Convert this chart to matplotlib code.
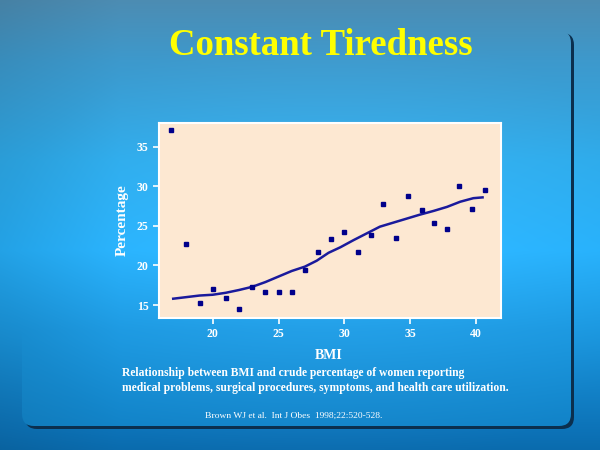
import numpy as np
import matplotlib
matplotlib.use('Agg')
import matplotlib.pyplot as plt
from matplotlib.patches import FancyBboxPatch

# data
bmi = [16.8, 18.0, 19.0, 20.0, 21.0, 22.0, 23.0, 24.0, 25.0, 26.0, 27.0, 28.0, 29.0,
       30.0, 31.0, 32.0, 32.9, 33.9, 34.8, 35.9, 36.8, 37.8, 38.7, 39.7, 40.7]
pct = [37.1, 22.7, 15.2, 17.0, 15.9, 14.5, 17.3, 16.6, 16.7, 16.7, 19.4, 21.7, 23.4,
       24.2, 21.7, 23.8, 27.8, 23.5, 28.8, 27.0, 25.4, 24.6, 30.0, 27.1, 29.5]

fit_x = [17.0, 18.0, 19.0, 20.0, 21.0, 22.0, 23.0, 24.0, 25.0, 26.0, 27.0, 27.9, 28.8,
         29.7, 30.7, 31.7, 32.7, 33.7, 34.7, 35.7, 36.8, 37.8, 38.8, 39.8, 40.5]
fit_y = [15.8, 16.0, 16.2, 16.3, 16.55, 16.9, 17.3, 17.9, 18.6, 19.3, 19.85, 20.6, 21.6,
         22.3, 23.2, 24.05, 24.9, 25.4, 25.9, 26.4, 26.9, 27.4, 28.05, 28.5, 28.6]

xticks = [20, 25, 30, 35, 40]
yticks = [15, 20, 25, 30, 35]

serif = ['Liberation Serif', 'DejaVu Serif']

fig = plt.figure(figsize=(6, 4.5), dpi=100)

# slide background: vertical gradient
bg = fig.add_axes([0, 0, 1, 1])
bg.set_xlim(0, 600)
bg.set_ylim(450, 0)
bg.axis('off')
yy, xx = np.mgrid[0:450, 0:600]
ky = [0, 60, 160, 250, 340, 430, 450]
kr = [0.30, 0.24, 0.18, 0.15, 0.10, 0.05, 0.04]
kg = [0.55, 0.60, 0.67, 0.69, 0.58, 0.45, 0.42]
kb = [0.70, 0.80, 0.92, 0.98, 0.86, 0.72, 0.68]
col = np.zeros((450, 600, 3))
for c, k in enumerate([kr, kg, kb]):
    col[..., c] = np.interp(yy, ky, k)
# a little lighter towards the middle, darker at far left
d = np.sqrt(((xx - 330) / 330.0) ** 2 + ((yy - 250) / 230.0) ** 2)
glow = np.clip(1 - d, 0, 1)
col = col + 0.05 * glow[..., None]
col[..., :] *= (0.92 + 0.08 * np.clip(xx / 120.0, 0, 1))[..., None]
col = np.clip(col, 0, 1)
bg.imshow(col, extent=(0, 600, 450, 0), zorder=0)

# panel with a thin dark shadow at right and bottom
shadow = FancyBboxPatch((25, 33), 549, 396, boxstyle='round,pad=0,rounding_size=12',
                        facecolor='#0b2f4e', edgecolor='none', zorder=1)
bg.add_patch(shadow)
clip = FancyBboxPatch((22, 31), 549, 395, boxstyle='round,pad=0,rounding_size=12',
                      facecolor='none', edgecolor='none', zorder=2)
bg.add_patch(clip)
pan = col.copy()
low = np.clip((yy - 330) / 100.0, 0, 1)
pan = np.clip(pan + (0.06 * low)[..., None] * np.array([0.3, 1.0, 1.0]), 0, 1)
im = bg.imshow(pan, extent=(0, 600, 450, 0), zorder=2)
im.set_clip_path(clip)

fig.text(0.535, 0.898, 'Constant Tiredness', color='#ffff00', fontsize=26.5,
         fontweight='bold', family=serif, ha='center', va='center')

ax = fig.add_axes([0.265, 0.2933, 0.57, 0.4334])
ax.set_facecolor('#fde8d2')
ax.plot(fit_x, fit_y, color='#1a1a9c', lw=1.8, zorder=2)
ax.plot(bmi, pct, 's', color='#00008b', ms=3, zorder=3)
ax.set_xlim(15.92, 41.9)
ax.set_ylim(13.36, 38.0)
ax.set_xticks(xticks)
ax.set_yticks(yticks)
for s in ax.spines.values():
    s.set_color('white')
    s.set_linewidth(1.5)
ax.tick_params(colors='white', length=4, width=1.2, labelsize=8.5)
for lab in ax.get_xticklabels() + ax.get_yticklabels():
    lab.set_fontweight('bold')
    lab.set_family(serif)
ax.set_ylabel('Percentage', color='white', fontsize=11, fontweight='bold', family=serif, labelpad=6)

fig.text(0.547, 0.211, 'BMI', color='white', fontsize=10, fontweight='bold', family=serif,
         ha='center', va='center')
fig.text(0.203, 0.154, 'Relationship between BMI and crude percentage of women reporting\n'
         'medical problems, surgical procedures, symptoms, and health care utilization.',
         color='white', fontsize=8.4, fontweight='bold', family=serif, ha='left', va='center',
         linespacing=1.3)
fig.text(0.342, 0.077, 'Brown WJ et al.  Int J Obes  1998;22:520-528.', color='white',
         fontsize=6.8, family=serif, ha='left', va='center')

fig.savefig('out.png', dpi=100)
